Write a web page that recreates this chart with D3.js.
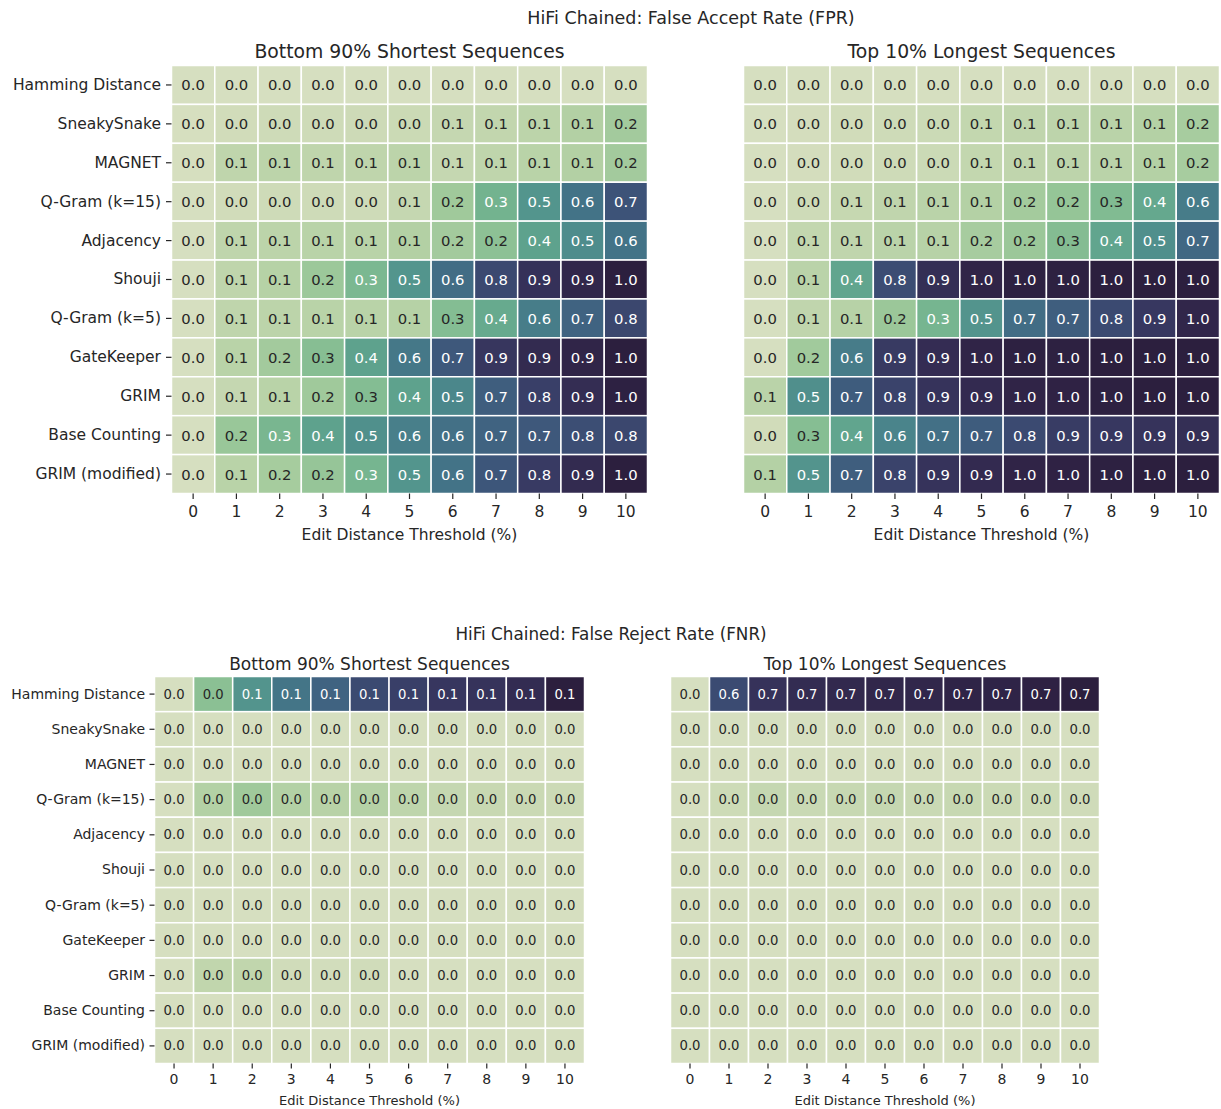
<!DOCTYPE html>
<html><head><meta charset="utf-8">
<script src="https://cdn.jsdelivr.net/npm/d3@7"></script>
<style>body{margin:0;background:#fff} svg{display:block} text{font-family:"DejaVu Sans",sans-serif}</style>
</head><body>
<svg id="c" width="1221" height="1109"></svg>
<script>
const methods = ["Hamming Distance","SneakySnake","MAGNET","Q-Gram (k=15)","Adjacency","Shouji","Q-Gram (k=5)","GateKeeper","GRIM","Base Counting","GRIM (modified)"];
const thresholds = [0,1,2,3,4,5,6,7,8,9,10];
const xLabel = "Edit Distance Threshold (%)";
const fprTitle = "HiFi Chained: False Accept Rate (FPR)";
const fnrTitle = "HiFi Chained: False Reject Rate (FNR)";
const leftTitle = "Bottom 90% Shortest Sequences";
const rightTitle = "Top 10% Longest Sequences";

const fprShort = [
  [0,0,0,0,0,0,0,0,0,0,0],
  [0.001,0.02,0.03,0.03,0.035,0.04,0.06,0.07,0.09,0.12,0.17],
  [0.001,0.08,0.09,0.08,0.08,0.09,0.06,0.08,0.1,0.12,0.17],
  [0,0.02,0.03,0.03,0.03,0.06,0.18,0.33,0.48,0.62,0.74],
  [0,0.08,0.09,0.1,0.1,0.12,0.17,0.24,0.42,0.52,0.62],
  [0,0.08,0.11,0.19,0.3,0.48,0.64,0.78,0.88,0.93,0.97],
  [0,0.08,0.09,0.1,0.1,0.11,0.27,0.38,0.58,0.68,0.79],
  [0,0.1,0.17,0.26,0.42,0.6,0.72,0.86,0.91,0.94,0.97],
  [0,0.06,0.1,0.18,0.27,0.42,0.54,0.7,0.82,0.9,0.96],
  [0,0.2,0.31,0.42,0.5,0.57,0.63,0.68,0.72,0.76,0.79],
  [0,0.1,0.16,0.21,0.32,0.48,0.62,0.73,0.84,0.91,0.97]
];
const fprLong = [
  [0,0,0,0,0,0,0,0,0,0,0],
  [0,0.01,0.02,0.03,0.04,0.07,0.08,0.09,0.1,0.12,0.16],
  [0,0.01,0.02,0.03,0.04,0.07,0.08,0.09,0.1,0.12,0.16],
  [0,0.03,0.06,0.08,0.1,0.12,0.17,0.22,0.29,0.4,0.6],
  [0,0.07,0.08,0.1,0.11,0.16,0.2,0.28,0.42,0.52,0.68],
  [0,0.1,0.42,0.79,0.92,0.97,0.99,0.99,1.0,1.0,1.0],
  [0,0.08,0.11,0.2,0.33,0.5,0.66,0.72,0.8,0.88,0.96],
  [0,0.18,0.6,0.87,0.93,0.97,0.99,0.99,1.0,1.0,1.0],
  [0.1,0.52,0.73,0.83,0.9,0.94,0.97,0.98,0.99,1.0,1.0],
  [0.02,0.27,0.42,0.57,0.65,0.73,0.8,0.86,0.88,0.9,0.92],
  [0.12,0.5,0.72,0.83,0.9,0.94,0.97,0.98,0.99,1.0,1.0]
];
const fnrShort = [
  [0,0.033,0.065,0.082,0.091,0.104,0.11,0.115,0.117,0.121,0.13],
  [0,0,0,0,0,0,0,0,0,0,0],
  [0,0,0,0,0,0,0,0,0,0,0],
  [0,0.016,0.024,0.016,0.014,0.015,0.011,0.008,0.007,0.006,0.005],
  [0,0,0,0,0,0,0,0,0,0,0],
  [0,0,0,0,0,0,0,0,0,0,0],
  [0,0,0,0,0,0,0,0,0,0,0],
  [0,0,0,0,0,0,0,0,0,0,0],
  [0,0.01,0.01,0.003,0.002,0.003,0,0,0,0,0],
  [0,0,0,0,0,0,0,0,0,0,0],
  [0,0,0,0,0,0,0,0,0,0,0]
];
const fnrLong = [
  [0,0.58,0.66,0.68,0.69,0.7,0.7,0.71,0.71,0.72,0.73],
  [0,0,0,0,0,0,0,0,0,0,0],
  [0,0,0,0,0,0,0,0,0,0,0],
  [0,0.025,0.045,0.035,0.04,0.045,0.035,0.04,0.03,0.025,0.02],
  [0,0,0,0,0,0,0,0,0,0,0],
  [0,0,0,0,0,0,0,0,0,0,0],
  [0,0,0,0,0,0,0,0,0,0,0],
  [0,0,0,0,0,0,0,0,0,0,0],
  [0,0,0,0,0,0,0,0,0,0,0],
  [0,0,0,0,0,0,0,0,0,0,0],
  [0,0,0,0,0,0,0,0,0,0,0]
];

// seaborn cubehelix_palette(start=.5, rot=-.75, as_cmap=True)
function cubehelix(t){
  const start=.5, rot=-.75, gamma=1, hue=.8, light=.85, dark=.15;
  const x = light + (dark - light) * t;
  const xg = Math.pow(x, gamma);
  const a = hue * xg * (1 - xg) / 2;
  const phi = 2 * Math.PI * (start / 3 + rot * x);
  const c = Math.cos(phi), s = Math.sin(phi);
  const cl = v => Math.max(0, Math.min(1, v));
  const r = cl(xg + a * (-0.14861 * c + 1.78277 * s));
  const g = cl(xg + a * (-0.29227 * c - 0.90649 * s));
  const b = cl(xg + a * (1.97294 * c));
  return d3.rgb(r * 255, g * 255, b * 255);
}
function lum(col){
  const f = v => { v = v / 255; return v <= 0.03928 ? v / 12.92 : Math.pow((v + 0.055) / 1.055, 2.4); };
  return 0.2126 * f(col.r) + 0.7152 * f(col.g) + 0.0722 * f(col.b);
}

const svg = d3.select("#c");

function heatmap(data, o){
  const g = svg.append("g");
  const x = d3.scaleBand().domain(thresholds).range([o.x0, o.x1]);
  const y = d3.scaleBand().domain(methods).range([o.y0, o.y1]);
  const flat = data.flat();
  const color = d3.scaleSequential(cubehelix).domain([d3.min(flat), d3.max(flat)]);
  const cells = [];
  data.forEach((row, i) => row.forEach((v, j) => cells.push({m: methods[i], t: thresholds[j], v})));
  g.selectAll("rect").data(cells).join("rect")
    .attr("x", d => x(d.t)).attr("y", d => y(d.m))
    .attr("width", x.bandwidth()).attr("height", y.bandwidth())
    .attr("fill", d => color(d.v))
    .attr("stroke", "#fff").attr("stroke-width", o.sw);
  g.selectAll("text.ann").data(cells).join("text").attr("class", "ann")
    .attr("x", d => x(d.t) + x.bandwidth() / 2)
    .attr("y", d => y(d.m) + y.bandwidth() / 2)
    .attr("text-anchor", "middle").attr("dominant-baseline", "central")
    .attr("font-size", o.annFs)
    .attr("fill", d => lum(d3.rgb(color(d.v))) > 0.408 ? "#262626" : "#ffffff")
    .text(d => d3.format(".1f")(d.v));
  const ax = g.append("g").attr("transform", `translate(0,${o.y1})`)
    .call(d3.axisBottom(x).tickSize(o.tick).tickPadding(o.xpad));
  ax.select(".domain").remove();
  ax.selectAll("line").attr("stroke", "#262626").attr("stroke-width", 1.2);
  ax.selectAll("text").attr("font-size", o.tickFs).attr("fill", "#262626").attr("font-family", "DejaVu Sans");
  if (o.showY){
    const ay = g.append("g").attr("transform", `translate(${o.x0},0)`)
      .call(d3.axisLeft(y).tickSize(o.tick).tickPadding(o.ypad));
    ay.select(".domain").remove();
    ay.selectAll("line").attr("stroke", "#262626").attr("stroke-width", 1.2);
    ay.selectAll("text").attr("font-size", o.tickFs).attr("fill", "#262626").attr("font-family", "DejaVu Sans");
  }
  g.append("text").attr("x", (o.x0 + o.x1) / 2).attr("y", o.xlabY)
    .attr("text-anchor", "middle").attr("font-size", o.labFs).attr("fill", "#262626").text(xLabel);
  g.append("text").attr("x", (o.x0 + o.x1) / 2).attr("y", o.titleY)
    .attr("text-anchor", "middle").attr("font-size", o.titleFs).attr("fill", "#262626").text(o.title);
}

const topOpts = {y0: 65.5, y1: 493.5, sw: 1.5, annFs: 14.8, tickFs: 15.5, labFs: 15.5, titleFs: 18.8, tick: 5.5, xpad: 7, ypad: 5, xlabY: 539.5, titleY: 57.5};
heatmap(fprShort, Object.assign({}, topOpts, {x0: 171.5, x1: 647.5, showY: true, title: leftTitle}));
heatmap(fprLong, Object.assign({}, topOpts, {x0: 743.5, x1: 1219.5, showY: false, title: rightTitle}));
const botOpts = {y0: 676.5, y1: 1063.5, sw: 1.5, annFs: 13.2, tickFs: 14, labFs: 13, titleFs: 17, tick: 5, xpad: 5.5, ypad: 4.5, xlabY: 1104.5, titleY: 670};
heatmap(fnrShort, Object.assign({}, botOpts, {x0: 154.5, x1: 584.5, showY: true, title: leftTitle}));
heatmap(fnrLong, Object.assign({}, botOpts, {x0: 670.5, x1: 1099.5, showY: false, title: rightTitle}));

svg.append("text").attr("x", 691).attr("y", 23.5).attr("text-anchor", "middle")
  .attr("font-size", 17.5).attr("fill", "#262626").text(fprTitle);
svg.append("text").attr("x", 611).attr("y", 640).attr("text-anchor", "middle")
  .attr("font-size", 16.8).attr("fill", "#262626").text(fnrTitle);
</script>
</body></html>
